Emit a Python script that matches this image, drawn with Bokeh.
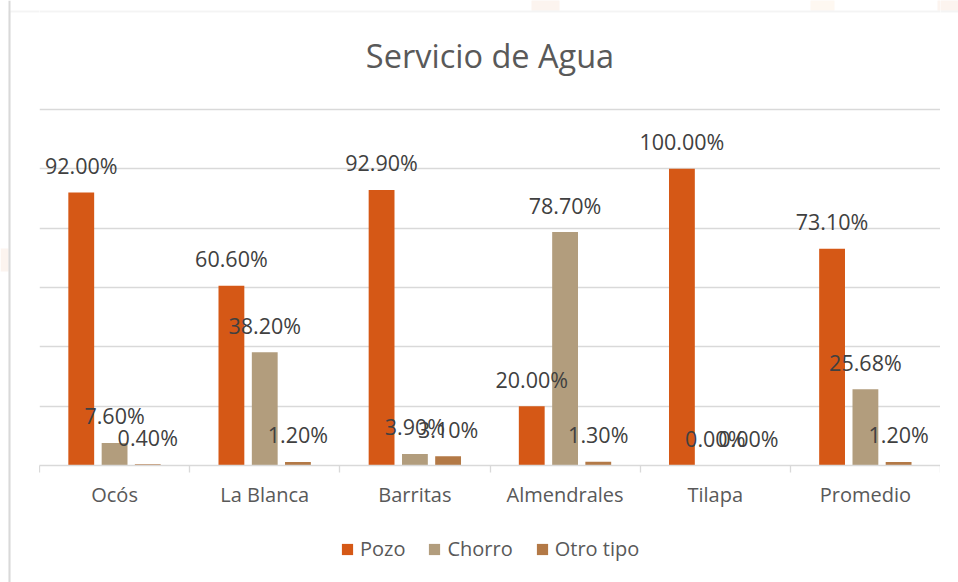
from bokeh.plotting import figure
from bokeh.layouts import column, row
from bokeh.models import (ColumnDataSource, FixedTicker, Legend, LegendItem,
                          BoxAnnotation, Range1d, Grid, Span)
from bokeh.core.properties import value
from bokeh.embed import file_html
from bokeh.resources import INLINE

title = "Servicio de Agua"
categories = ["Ocós", "La Blanca", "Barritas", "Almendrales", "Tilapa", "Promedio"]
series = ["Pozo", "Chorro", "Otro tipo"]
pozo = [92.00, 60.60, 92.90, 20.00, 100.00, 73.10]
chorro = [7.60, 38.20, 3.90, 78.70, 0.00, 25.68]
otro = [0.40, 1.20, 3.10, 1.30, 0.00, 1.20]
yticks = [20, 40, 60, 80, 100, 120]

colors = ["#D55816", "#B29D7D", "#B37946"]
offsets = [-0.222, 0.0, 0.221]
bar_w = 0.172
FONT = "Open Sans"
BORDER = "#D9D9D9"
PEACH = "#F8E3D8"
PEACH2 = "#FDEEDD"

W_LEFT, W_MAIN, W_RIGHT = 39, 901, 18
TOP_H, TOTAL_H = 520, 582
ymax = 120 * 465 / 356.0


def box(**kw):
    return BoxAnnotation(left_units="canvas", right_units="canvas",
                         top_units="canvas", bottom_units="canvas", **kw)


def strip(width, height):
    f = figure(width=width, height=height, x_range=Range1d(0, width),
               y_range=Range1d(0, height), output_backend="svg",
               toolbar_location=None, x_axis_location=None,
               y_axis_location=None, min_border_left=0, min_border_right=0,
               min_border_top=0, min_border_bottom=0)
    f.title.visible = False
    f.outline_line_color = None
    f.xgrid.visible = False
    f.ygrid.visible = False
    return f


# ---- main chart ----
p = figure(width=W_MAIN, height=TOP_H, x_range=Range1d(0, len(categories)),
           y_range=Range1d(0, ymax), output_backend="svg",
           toolbar_location=None, y_axis_location=None,
           min_border_left=0, min_border_right=0, min_border_top=0,
           min_border_bottom=TOP_H - 465)
p.title.visible = False
p.outline_line_color = None
p.xgrid.visible = False
p.ygrid.visible = False
p.add_layout(Grid(dimension=1, ticker=FixedTicker(ticks=yticks),
                  grid_line_color=BORDER, grid_line_width=1.3))

ax = p.xaxis[0]
centers = [i + 0.5 for i in range(len(categories))]
ax.ticker = FixedTicker(ticks=centers, minor_ticks=list(range(len(categories) + 1)))
ax.major_label_overrides = {c: name for c, name in zip(centers, categories)}
ax.major_tick_line_color = None
ax.major_tick_out = 0
ax.major_tick_in = 0
ax.minor_tick_line_color = BORDER
ax.minor_tick_line_width = 1.3
ax.minor_tick_out = 7
ax.minor_tick_in = 0
ax.axis_line_color = BORDER
ax.axis_line_width = 1.3
ax.major_label_text_font = FONT
ax.major_label_text_font_size = "20px"
ax.major_label_text_color = "#595959"
ax.major_label_standoff = 8

sources = []
for vals, col, off in zip([pozo, chorro, otro], colors, offsets):
    xs = [c + off for c in centers]
    src = ColumnDataSource(dict(x=xs, top=vals,
                                label=[f"{v:.2f}%" for v in vals]))
    sources.append(src)
    p.vbar(x="x", top="top", width=bar_w, bottom=0, source=src,
           fill_color=col, line_color=None)
for src in sources:
    p.text(x="x", y="top", text="label", source=src,
           text_font=value(FONT), text_font_size="21.5px",
           text_color="#404040", text_align="center",
           text_baseline="middle", y_offset=-27)

p.text(x=[len(categories) / 2], y=[ymax - 55 * ymax / 465], text=[title],
       text_font=value(FONT), text_font_size="32.5px", text_color="#595959",
       text_align="center", text_baseline="middle")

# background decorations and frame border of the chart area
p.add_layout(box(left=492, right=520, top=-5, bottom=10, fill_color=PEACH,
                 line_color=None))
p.add_layout(box(left=771, right=795, top=-5, bottom=10, fill_color=PEACH2,
                 line_color=None))
p.add_layout(box(left=898, right=950, top=-5, bottom=10, fill_color=PEACH,
                 line_color=None))
p.add_layout(box(left=-10, right=3000, top=11, bottom=3000, fill_alpha=0,
                 line_color=BORDER, line_width=2))

# ---- legend strip ----
q = strip(W_MAIN, TOTAL_H - TOP_H)
items = []
for name, col in zip(series, colors):
    r = q.vbar(x=[W_MAIN / 2], top=[0], bottom=0, width=0.01, fill_color=col,
               line_color=None)
    items.append(LegendItem(label=name, renderers=[r]))
legend = Legend(items=items, orientation="horizontal", location=(301, 20),
                background_fill_alpha=0, border_line_color=None,
                padding=0, margin=0, glyph_width=14, glyph_height=14,
                label_standoff=6, spacing=22, label_height=20,
                label_text_font=FONT, label_text_font_size="20px",
                label_text_color="#595959")
q.add_layout(legend)

# ---- side strips carrying the outer border ----
s_left = strip(W_LEFT, TOTAL_H)
s_left.add_layout(box(left=0, right=8, top=248, bottom=271, fill_color=PEACH,
                      line_color=None))
s_left.add_layout(BoxAnnotation(left=9, right=W_LEFT + 20, top=TOTAL_H - 11,
                                bottom=-50, fill_alpha=0, line_color=BORDER,
                                line_width=2))
s_left.add_layout(Span(location=9, dimension="height", line_color=BORDER,
                       line_width=2))
s_right = strip(W_RIGHT, TOTAL_H)
s_right.add_layout(box(left=-3, right=30, top=-5, bottom=10, fill_color=PEACH,
                       line_color=None))
s_right.add_layout(box(left=-10, right=3000, top=11, bottom=3000, fill_alpha=0,
                       line_color=BORDER, line_width=2))

layout = row(s_left, column(p, q, spacing=0), s_right, spacing=0)
open("out.html", "w").write(file_html(layout, INLINE))
